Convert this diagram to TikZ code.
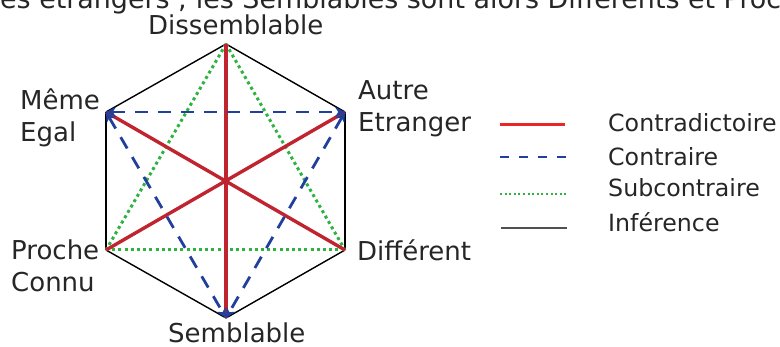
\documentclass[tikz,border=0pt]{standalone}
\usepackage{fontspec}
\setmainfont{DejaVu Sans}
\usetikzlibrary{arrows.meta}
\definecolor{cred}{RGB}{192,36,46}
\definecolor{lred}{RGB}{232,40,40}
\definecolor{cblue}{RGB}{32,64,156}
\definecolor{cgreen}{RGB}{46,178,64}
\definecolor{cgray}{RGB}{80,80,80}
\tikzset{
  lbl/.style={anchor=base west,inner sep=0pt,font=\fontsize{26}{32}\selectfont,text=black!85},
  ttl/.style={anchor=base west,inner sep=0pt,font=\fontsize{26.9}{32}\selectfont,text=black!85},
  leg/.style={anchor=base west,inner sep=0pt,font=\fontsize{23.7}{28}\selectfont,text=black!85},
  inf/.style={draw=black,line width=1.4pt},
  contra/.style={draw=cred,line width=3.4pt},
  contr/.style={draw=cblue,line width=2.8pt,dash pattern=on 13pt off 10pt,
     {Stealth[length=10pt,width=10pt]}-{Stealth[length=10pt,width=10pt]}},
  sub/.style={draw=cgreen,line width=3pt,dash pattern=on 3pt off 3.2pt},
}
\begin{document}
\begin{tikzpicture}[x=1pt,y=-1pt]
\useasboundingbox (0,0) rectangle (780,347);
% title line (cut off at top)
\node[ttl] (title) at (0,9) {es étrangers ; les Semblables sont alors Différents et Proc};
% vertices
\coordinate (D) at (226,44);
\coordinate (M) at (106,112);
\coordinate (A) at (345,112);
\coordinate (P) at (106,250);
\coordinate (F) at (345,250);
\coordinate (S) at (226,318);
% inference (hexagon)
\draw[inf] (D) -- (M);
\draw[inf] (D) -- (A);
\draw[inf] (M) -- (P);
\draw[inf] (A) -- (F);
\draw[inf] (P) -- (S);
\draw[inf] (F) -- (S);
% subcontraire
\draw[sub] (D) -- (P);
\draw[sub] (D) -- (F);
\draw[sub] (P) -- (F);
% contradictoire
\draw[contra] (D) -- (S);
\draw[contra] (M) -- (F);
\draw[contra] (A) -- (P);
% contraire
\draw[contr] (M) -- (A);
\draw[contr] (M) -- (S);
\draw[contr] (A) -- (S);
% labels
\node[lbl] (tD) at (148,35) {Dissemblable};
\node[lbl] (tM1) at (20,110) {Même};
\node[lbl] (tM2) at (20,142) {Egal};
\node[lbl] (tA1) at (358,100) {Autre};
\node[lbl] (tA2) at (358,132) {Etranger};
\node[lbl] (tP1) at (11,260) {Proche};
\node[lbl] (tP2) at (11,292) {Connu};
\node[lbl] (tF) at (357,261) {Différent};
\node[lbl] (tS) at (168,343) {Semblable};
% legend
\coordinate (l1a) at (500,125); \coordinate (l1b) at (565,125);
\coordinate (l2a) at (500,157); \coordinate (l2b) at (566,157);
\coordinate (l3a) at (500,194); \coordinate (l3b) at (566,194);
\coordinate (l4a) at (501,228); \coordinate (l4b) at (567,228);
\draw[draw=lred,line width=3pt] (l1a) -- (l1b);
\draw[draw=cblue,line width=2.6pt,dash pattern=on 9pt off 10pt] (l2a) -- (l2b);
\draw[draw=cgreen,line width=2.4pt,dash pattern=on 2pt off 2.6pt] (l3a) -- (l3b);
\draw[draw=cgray,line width=1.4pt] (l4a) -- (l4b);
\node[leg] (k1) at (608,132) {Contradictoire};
\node[leg] (k2) at (608,166) {Contraire};
\node[leg] (k3) at (608,197) {Subcontraire};
\node[leg] (k4) at (608,232) {Inférence};
\end{tikzpicture}
\end{document}
